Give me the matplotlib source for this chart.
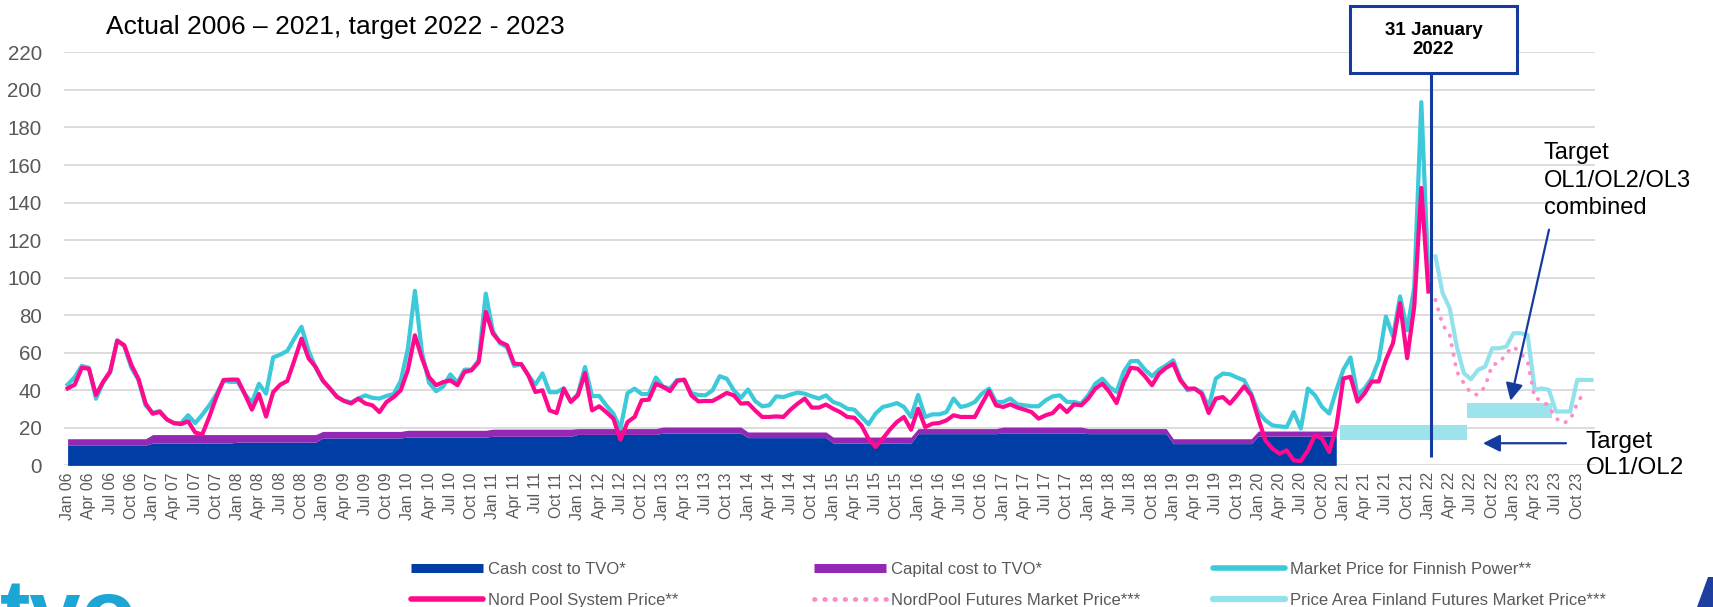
import numpy as np
import matplotlib
matplotlib.use("Agg")
import matplotlib.pyplot as plt
from matplotlib.lines import Line2D
from matplotlib.patches import Rectangle, Polygon

plt.rcParams['font.family'] = ['Liberation Sans', 'DejaVu Sans']

# Monatsachse Jan 06 .. Dec 23
month_names = ['Jan', 'Feb', 'Mar', 'Apr', 'May', 'Jun', 'Jul', 'Aug', 'Sep', 'Oct', 'Nov', 'Dec']
months = [f"{m} {y:02d}" for y in range(6, 24) for m in month_names]
tick_labels = months[::3]

# Daten (EUR/MWh)
nordpool_system = [
    41, 43, 52, 51.5, 37.5, 44.5, 50, 66.5, 64, 53.5, 46, 33,
    27.5, 28.5, 24.5, 22.5, 22, 23.5, 17.5, 16.5, 26, 36.5, 45.5, 45.7,
    45.7, 38, 29.7, 38, 26, 39, 43, 45, 56, 67.5, 57, 52.4,
    45.3, 41, 36.5, 34.3, 33, 35.6, 33, 32, 28.4, 33.8, 36.4, 40,
    50.7, 69.3, 57, 47, 42.7, 44.4, 45.3, 42.7, 49.8, 50.7, 55, 81.8,
    70.2, 65.8, 64, 54.2, 53.9, 48, 39.1, 40, 29.3, 27.9, 40.9, 33.8,
    37.3, 49.2, 29.3, 31.5, 28.4, 24.9, 13.7, 23.1, 25.8, 34.7, 35, 43.5,
    41.8, 39.6, 45, 45.7, 37.3, 34.1, 34.3, 34.3, 36.4, 38.6, 37.3, 32.9,
    33.2, 29.3, 25.8, 25.8, 26.1, 25.8, 29.7, 32.9, 35.6, 30.8, 30.8, 32.4,
    30.2, 28.4, 25.8, 25.4, 21.3, 14.2, 9.8, 14.2, 19, 23.1, 25.8, 19,
    30.2, 20.4, 22.2, 22.6, 24, 26.7, 25.8, 25.8, 25.8, 32.9, 39.6, 32,
    31.1, 32.5, 30.8, 29.7, 28.4, 24.9, 26.7, 27.9, 32, 28.4, 32.5, 32,
    35.6, 40.9, 43.5, 39.1, 33.2, 44.4, 52, 51.5, 47.5, 42.7, 48.9, 52,
    54.2, 45.3, 40.9, 40.9, 38.2, 27.9, 35.6, 36.4, 32.9, 37.3, 42.1, 37.3,
    24.9, 13.3, 8.9, 6.2, 8, 2.7, 2.3, 8, 16, 14.2, 7.1, 20.4,
    46.3, 47.2, 34, 38.4, 44.7, 44.7, 56.2, 65.1, 86.4, 57.1, 84.6, 147.8,
    92.6,
]
market_finland = [
    43, 47, 53, 52, 35.5, 44, 49.5, 66.5, 63.5, 52, 45.5, 32,
    28, 29, 24.5, 22.5, 22.5, 26.7, 22.5, 27, 32, 38, 45, 44.5,
    44.5, 38, 33.5, 43.5, 38.2, 57.5, 59, 61, 67.6, 73.8, 61, 52,
    45, 41, 36.5, 34.5, 33.5, 35.6, 37.3, 36, 35.6, 37, 38, 45,
    62, 93, 60, 44, 39.5, 42, 48.5, 44, 51, 51, 56, 91.5,
    71.5, 65, 63, 53, 54, 48, 43, 49, 39, 39, 41, 34,
    38, 52.4, 36.8, 37, 32, 27.6, 19.5, 38.5, 40.9, 38, 38, 46.8,
    42, 41, 45.5, 45.5, 38.5, 37.5, 37.3, 40, 47.5, 46.2, 40, 36,
    40.4, 34.3, 31.5, 32, 36.8, 36.4, 37.7, 38.8, 38.2, 36.8, 35.6, 37.3,
    33.8, 32.5, 30.2, 29.7, 25.8, 21.9, 27.6, 31.1, 32, 33.2, 31.1, 25.8,
    37.5, 25.8, 27.2, 27.2, 28.4, 35.6, 31.1, 32, 33.8, 38.2, 40.9, 33.8,
    33.8, 35.6, 32.5, 32, 31.5, 31.5, 34.7, 36.8, 37.3, 33.8, 33.8, 32.9,
    37.3, 43.5, 46.2, 41.8, 39.1, 49.8, 55.5, 55.6, 51, 47.5, 51, 53.3,
    56, 46.2, 40, 40.9, 39.1, 31.1, 46.2, 48.9, 48.5, 46.8, 45.3, 38.2,
    28.4, 24, 21.3, 20.8, 20.4, 28.4, 19.6, 40.9, 37.3, 31.1, 27.6, 40,
    51, 57.5, 37.5, 41, 46.5, 56, 79.3, 68.7, 90, 72, 95, 193.5,
    100,
]
# Terminpreise ab Feb 22
futures_start = 'Feb 22'
nordpool_futures = [88.2, 74.9, 69.5, 50, 43.8, 38.4, 37.5, 42, 53.6, 54.5, 59.8,
                    63.3, 59.8, 55.3, 35.7, 34.9, 31.3, 25.1, 22.4, 24.2, 33.1, 39.3]
finland_futures = [111.3, 91.8, 83.8, 63.3, 49.1, 45.9, 50.9, 52.6, 62.4, 62.4, 63.3,
                   70.4, 70.4, 69.5, 40.2, 41, 40.2, 28.7, 28.7, 28.7, 45.5, 45.5, 45.5]

# TVO Kosten pro Jahr 2006-2020
cost_years = list(range(2006, 2021))
cash_cost = [10.7, 11.9, 12.4, 14.6, 15.1, 15.5, 16.5, 17.2, 14.8, 11.9, 16.9, 17.3, 16.9, 11.6, 15.6]
capital_cost = [3.5, 4.5, 4.0, 3.5, 3.6, 3.8, 3.1, 3.2, 3.0, 3.2, 2.7, 3.1, 2.7, 2.6, 2.7]

# Zielwerte
target_ol12 = ['Jan 21', 'Jun 22', 13.3, 21.4]
target_ol123 = ['Jul 22', 'Jun 23', 25.5, 33.3]

# Farben
c_cash = '#003DA5'
c_cap = '#9228B3'
c_market = '#3CC9D9'
c_nord = '#FF0A8F'
c_nord_fut = '#FF8CC8'
c_fin_fut = '#93E1EA'
c_band = '#9DE3EB'
c_dark = '#163B9E'
c_grey = '#595959'

idx = {m: i for i, m in enumerate(months)}
x_all = np.arange(len(months))

fig = plt.figure(figsize=(17.13, 6.07), dpi=100)
ax = fig.add_axes([0.0374, 0.2333, 0.8937, 0.6804])

# Kostenflächen
cash_m = np.repeat(cash_cost, 12)
cap_m = np.repeat(capital_cost, 12)
xc = np.arange(len(cash_m))
ax.fill_between(xc, 0, cash_m, color=c_cash, lw=0, zorder=2)
ax.fill_between(xc, cash_m, cash_m + cap_m, color=c_cap, lw=0, zorder=2)

# Zielbänder
for b in (target_ol12, target_ol123):
    ax.fill_between([idx[b[0]] - 0.5, idx[b[1]] + 0.5], b[2], b[3], color=c_band, lw=0, zorder=2)

# Linien
ax.plot(x_all[:len(market_finland)], market_finland, color=c_market, lw=3, zorder=3,
        solid_joinstyle='round')
ax.plot(x_all[:len(nordpool_system)], nordpool_system, color=c_nord, lw=3, zorder=4,
        solid_joinstyle='round')
s = idx[futures_start]
ax.plot(x_all[s:s + len(finland_futures)], finland_futures, color=c_fin_fut, lw=3, zorder=3)
ax.plot(x_all[s:s + len(nordpool_futures)], nordpool_futures, color=c_nord_fut, lw=2.8,
        linestyle=(0, (0.1, 2.4)), dash_capstyle='round', zorder=3)

# Stichtag 31 January 2022
ax.vlines(192.3, 4.5, 210, color=c_dark, lw=2.2, zorder=6, clip_on=False)
fig.add_artist(Rectangle((1350 / 1713, 1 - 73 / 607), 167 / 1713, 67.5 / 607,
                         transform=fig.transFigure, facecolor='white', edgecolor=c_dark, lw=2.2))
fig.text(1433.5 / 1713, 1 - 40 / 607, '31 January\n2022', ha='center', va='center',
         fontsize=13.5, fontweight='bold', color='black', linespacing=1.2)

# Beschriftungen der Ziele
ax.text(208.3, 172, 'Target\nOL1/OL2/OL3\ncombined', fontsize=17, va='top', ha='left',
        linespacing=1.3, clip_on=False)
ax.annotate('', xy=(203.5, 33), xytext=(209.1, 127),
            arrowprops=dict(arrowstyle='-|>', color=c_dark, lw=1.6, mutation_scale=26))
ax.text(214.2, 18.5, 'Target\nOL1/OL2', fontsize=17.5, va='top', ha='left',
        linespacing=1.28, clip_on=False)
ax.annotate('', xy=(199.3, 11.8), xytext=(211.8, 11.8),
            arrowprops=dict(arrowstyle='-|>', color=c_dark, lw=1.6, mutation_scale=26))

# Achsen
ax.set_xlim(-0.5, len(months) - 0.5)
ax.set_ylim(0, 220)
ax.set_yticks(np.arange(0, 221, 20))
ax.set_xticks(x_all[::3])
ax.set_xticklabels(tick_labels, rotation=90, fontsize=11.3, color=c_grey)
ax.tick_params(axis='y', labelsize=14.8, labelcolor=c_grey, length=0, pad=16)
ax.tick_params(axis='x', length=0, pad=5)
ax.grid(axis='y', color='#D9D9D9', lw=1.3)
ax.set_axisbelow(True)
for sp in ax.spines.values():
    sp.set_visible(False)

fig.text(106 / 1713, 1 - 34 / 607, 'Actual 2006 \u2013 2021, target 2022 - 2023',
         fontsize=19, va='baseline', ha='left')

# Legende (drei Spalten)
leg_font = dict(family=['Liberation Sans Narrow', 'Liberation Sans'], size=12)
cols = [
    ([Line2D([], [], color=c_cash, lw=6.5, solid_capstyle='butt'),
      Line2D([], [], color=c_nord, lw=4, solid_capstyle='round')],
     ['Cash cost to TVO*', 'Nord Pool System Price**'], 411),
    ([Line2D([], [], color=c_cap, lw=6.5, solid_capstyle='butt'),
      Line2D([], [], color=c_nord_fut, lw=3.5, linestyle=(0, (0.1, 2.0)), dash_capstyle='round')],
     ['Capital cost to TVO*', 'NordPool Futures Market Price***'], 814),
    ([Line2D([], [], color=c_market, lw=4, solid_capstyle='round'),
      Line2D([], [], color=c_fin_fut, lw=4.5, solid_capstyle='round')],
     ['Market Price for Finnish Power**', 'Price Area Finland Futures Market Price***'], 1213),
]
for h, l, xp in cols:
    lg = fig.legend(h, l, loc='upper left', bbox_to_anchor=(xp / 1713, 1 - 562 / 607),
                    frameon=False, prop=leg_font, handlelength=4.3, handletextpad=0.3,
                    borderpad=0, borderaxespad=0, labelspacing=0.95)
    for t in lg.get_texts():
        t.set_color(c_grey)

# Logo (am unteren Rand angeschnitten)
fig.text(0.0, 0.05, 'tvo', fontsize=66, fontweight='bold', color='#1BA6D6', va='top')
fig.add_artist(Polygon([(1697 / 1713, 0), (1, 0), (1, 30 / 607), (1708 / 1713, 30 / 607)],
                       closed=True, transform=fig.transFigure, color='#1F3FA0', lw=0))

fig.savefig('out.png', dpi=100)
